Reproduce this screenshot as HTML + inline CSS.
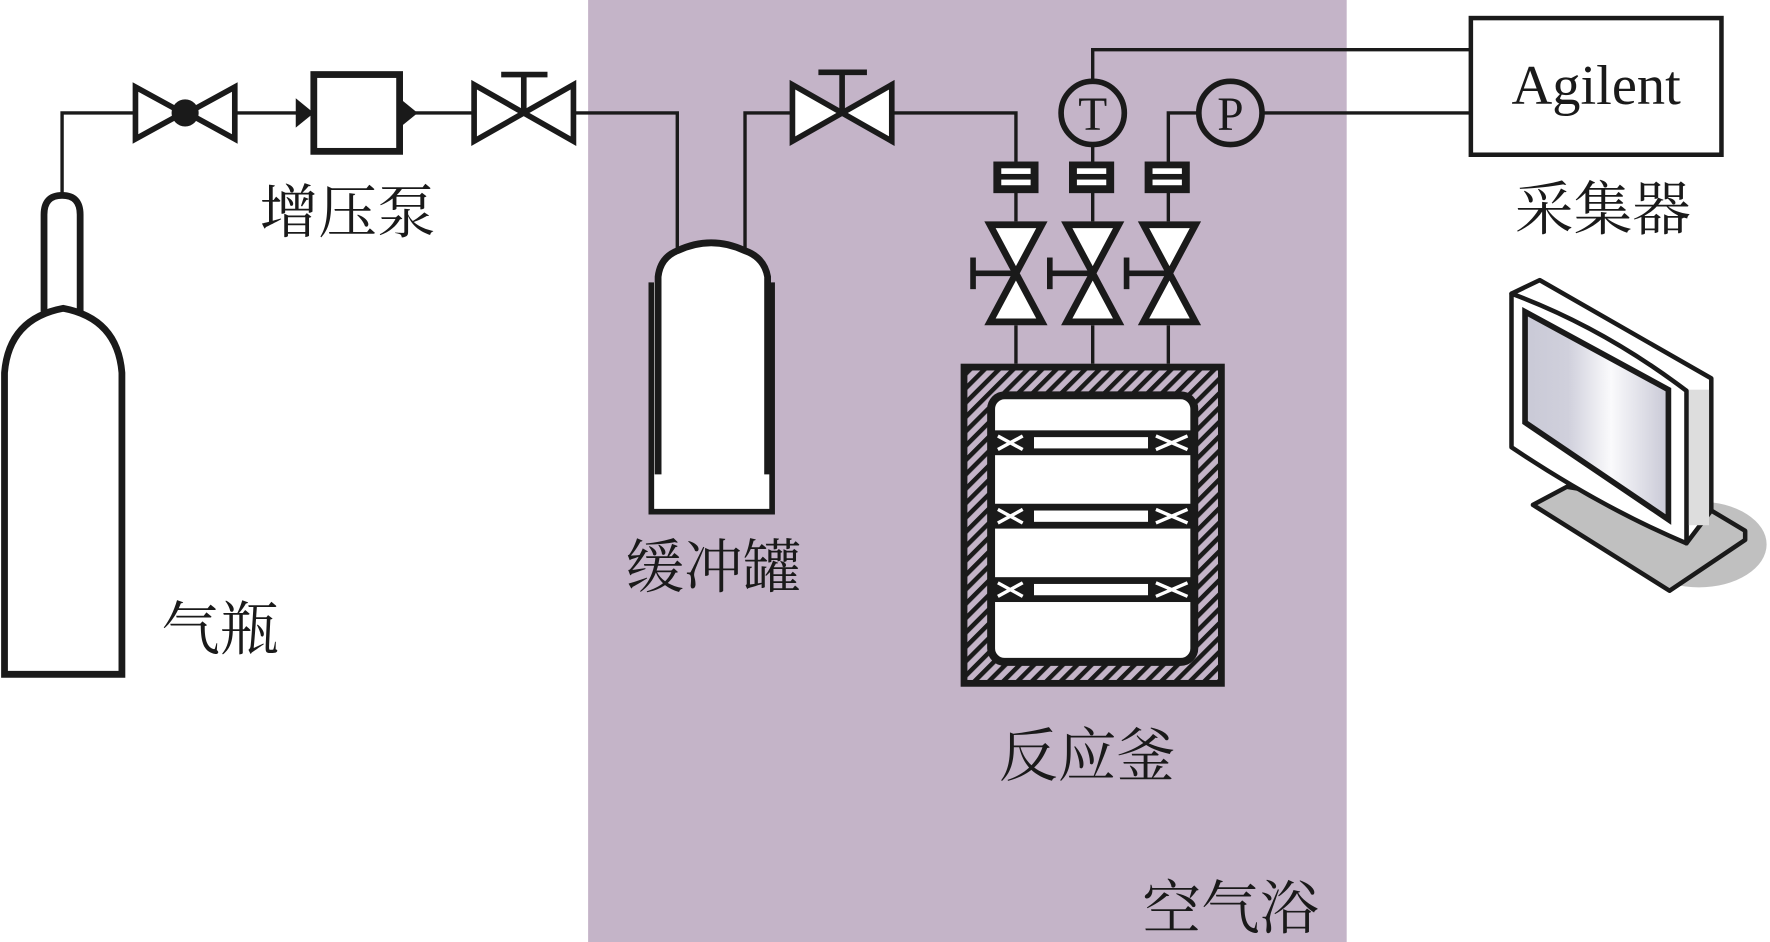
<!DOCTYPE html>
<html><head><meta charset="utf-8"><style>html,body{margin:0;padding:0;background:#fff}svg{display:block}</style></head>
<body>
<svg width="1770" height="942" viewBox="0 0 1568 834" preserveAspectRatio="none" xmlns="http://www.w3.org/2000/svg">
<defs>
<pattern id="h" width="9" height="9" patternUnits="userSpaceOnUse" patternTransform="rotate(45)">
<rect width="9" height="9" fill="#c4b4c8"/><rect width="4" height="9" fill="#1a1a1a"/>
</pattern>
<linearGradient id="scr" x1="0" x2="1" y1="0" y2="0">
<stop offset="0" stop-color="#c9c9d6"/><stop offset="0.3" stop-color="#d0d0dc"/><stop offset="0.6" stop-color="#fafafc"/><stop offset="1" stop-color="#c8c8d6"/>
</linearGradient>
</defs>
<rect x="521" y="0" width="672" height="834" fill="#c4b4c8"/>
<g fill="none" stroke="#1a1a1a" stroke-width="3">
<polyline points="55,172 55,100 118,100"/>
<line x1="210" y1="100" x2="265" y2="100"/>
<line x1="368" y1="100" x2="418" y2="100"/>
<polyline points="510,100 600,100 600,224"/>
<polyline points="660,224 660,100 700,100"/>
<polyline points="792,100 900,100 900,143"/>
<polyline points="968,71 968,44 1302,44"/>
<line x1="968" y1="129" x2="968" y2="143"/>
<polyline points="1035,143 1035,100 1061,100"/>
<line x1="1119" y1="100" x2="1302" y2="100"/>
<line x1="900" y1="170" x2="900" y2="196"/><line x1="968" y1="170" x2="968" y2="196"/><line x1="1035" y1="170" x2="1035" y2="196"/>
<line x1="900" y1="288" x2="900" y2="322"/><line x1="968" y1="288" x2="968" y2="322"/><line x1="1035" y1="288" x2="1035" y2="322"/>
</g>
<!-- gas cylinder -->
<g fill="#fff" stroke="#1a1a1a" stroke-width="6">
<path d="M39,276 L39,190 Q39,173 55,173 Q71,173 71,190 L71,276"/>
<path d="M4,597 L4,330 Q8,282 56,273 Q104,282 108,330 L108,597 Z"/>
</g>
<!-- valve 1 ball -->
<g fill="#fff" stroke="#1a1a1a" stroke-width="5">
<polygon points="120,77 120,123 162,100"/><polygon points="208,77 208,123 166,100"/>
</g>
<circle cx="164" cy="100" r="12" fill="#1a1a1a"/>
<!-- pump -->
<polygon points="262,87 262,113 278,100" fill="#1a1a1a"/>
<rect x="278" y="66" width="76" height="68" fill="#fff" stroke="#1a1a1a" stroke-width="6"/>
<polygon points="354,87 354,113 370,100" fill="#1a1a1a"/>
<!-- valve 3 -->
<polygon points="420,75 420,125 508,75 508,125" fill="#fff" stroke="#1a1a1a" stroke-width="5"/>
<line x1="464" y1="100" x2="464" y2="66" stroke="#1a1a1a" stroke-width="5"/>
<line x1="444" y1="66" x2="485" y2="66" stroke="#1a1a1a" stroke-width="5"/>
<!-- valve 4 -->
<polygon points="702,75 702,125 790,75 790,125" fill="#fff" stroke="#1a1a1a" stroke-width="5"/>
<line x1="746" y1="100" x2="746" y2="64" stroke="#1a1a1a" stroke-width="5"/>
<line x1="725" y1="64" x2="768" y2="64" stroke="#1a1a1a" stroke-width="5"/>
<!-- buffer tank -->
<path d="M577,250 L577,453 L684,453 L684,250" fill="#fff" stroke="#1a1a1a" stroke-width="5"/>
<path d="M583,420 L583,245 Q585,228 600,222 Q630,208 660,222 Q677,228 680,245 L680,420" fill="#fff" stroke="#1a1a1a" stroke-width="6"/>
<!-- fittings -->
<g fill="#1a1a1a">
<rect x="880" y="143" width="40" height="28"/><rect x="947" y="143" width="40" height="28"/><rect x="1014" y="143" width="40" height="28"/>
</g>
<g fill="#fff">
<rect x="887" y="149" width="26" height="5"/><rect x="887" y="159" width="26" height="5"/>
<rect x="954" y="149" width="26" height="5"/><rect x="954" y="159" width="26" height="5"/>
<rect x="1021" y="149" width="26" height="5"/><rect x="1021" y="159" width="26" height="5"/>
</g>
<!-- vertical valves -->
<g fill="#fff" stroke="#1a1a1a" stroke-width="6">
<polygon points="877,199 923,199 877,285 923,285"/>
<polygon points="945,199 991,199 945,285 991,285"/>
<polygon points="1013,199 1059,199 1013,285 1059,285"/>
</g>
<g stroke="#1a1a1a" stroke-width="5">
<line x1="862" y1="242" x2="900" y2="242"/><line x1="862" y1="228" x2="862" y2="256"/>
<line x1="930" y1="242" x2="968" y2="242"/><line x1="930" y1="228" x2="930" y2="256"/>
<line x1="998" y1="242" x2="1035" y2="242"/><line x1="998" y1="228" x2="998" y2="256"/>
</g>
<!-- T, P gauges -->
<circle cx="968" cy="100" r="28" fill="#c4b4c8" stroke="#1a1a1a" stroke-width="5"/>
<circle cx="1090" cy="100" r="28" fill="#c4b4c8" stroke="#1a1a1a" stroke-width="5"/>
<text x="968" y="115" font-family="Liberation Serif,serif" font-size="42" text-anchor="middle" fill="#1a1a1a">T</text>
<text x="1090" y="115" font-family="Liberation Serif,serif" font-size="42" text-anchor="middle" fill="#1a1a1a">P</text>
<!-- reactor -->
<rect x="854" y="325" width="228" height="280" fill="url(#h)" stroke="#1a1a1a" stroke-width="6"/>
<rect x="878" y="350" width="180" height="236" rx="12" fill="#fff" stroke="#1a1a1a" stroke-width="7"/>
<g fill="#1a1a1a">
<rect x="878" y="381" width="180" height="22"/><rect x="878" y="446" width="180" height="22"/><rect x="878" y="511" width="180" height="22"/>
</g>
<g fill="#fff">
<rect x="916" y="387" width="101" height="10"/><rect x="916" y="452" width="101" height="10"/><rect x="916" y="517" width="101" height="10"/>
</g>
<g stroke="#fff" stroke-width="3">
<path d="M884,386 L906,398 M884,398 L906,386 M1024,386 L1052,398 M1024,398 L1052,386"/>
<path d="M884,451 L906,463 M884,463 L906,451 M1024,451 L1052,463 M1024,463 L1052,451"/>
<path d="M884,516 L906,528 M884,528 L906,516 M1024,516 L1052,528 M1024,528 L1052,516"/>
</g>
<!-- Agilent -->
<rect x="1303" y="16" width="222" height="121" fill="#fff" stroke="#1a1a1a" stroke-width="4"/>
<text x="1414" y="92" font-family="Liberation Serif,serif" font-size="50" text-anchor="middle" fill="#1a1a1a">Agilent</text>
<!-- monitor -->
<ellipse cx="1505" cy="482" rx="60" ry="38" fill="#c0c0c0"/>
<polygon points="1388,431 1358,447 1479,523 1546,478 1546,470 1516,452" fill="#c0c0c0" stroke="#1a1a1a" stroke-width="4" stroke-linejoin="round"/>
<polygon points="1364,248 1516,335 1516,452 1494,481 1494,346 1339,260" fill="#fff" stroke="#1a1a1a" stroke-width="4" stroke-linejoin="round"/>
<rect x="1494" y="345" width="20" height="120" fill="#ddd"/>
<path d="M1339,260 Q1420,290 1494,346 L1494,481 Q1420,450 1339,396 Z" fill="#fff" stroke="#1a1a1a" stroke-width="4" stroke-linejoin="round"/>
<polygon points="1351,276 1478,345 1478,460 1351,374" fill="url(#scr)" stroke="#1a1a1a" stroke-width="5"/>
<!-- labels -->
<g font-family="Liberation Serif,'Noto Serif CJK SC',serif" fill="#1a1a1a" font-size="52">
<text x="308" y="206" text-anchor="middle">增压泵</text>
<text x="195" y="575" text-anchor="middle">气瓶</text>
<text x="632" y="520" text-anchor="middle">缓冲罐</text>
<text x="963" y="687" text-anchor="middle">反应釜</text>
<text x="1090" y="822" text-anchor="middle">空气浴</text>
<text x="1420" y="203" text-anchor="middle">采集器</text>
</g>
</svg>
</body></html>
